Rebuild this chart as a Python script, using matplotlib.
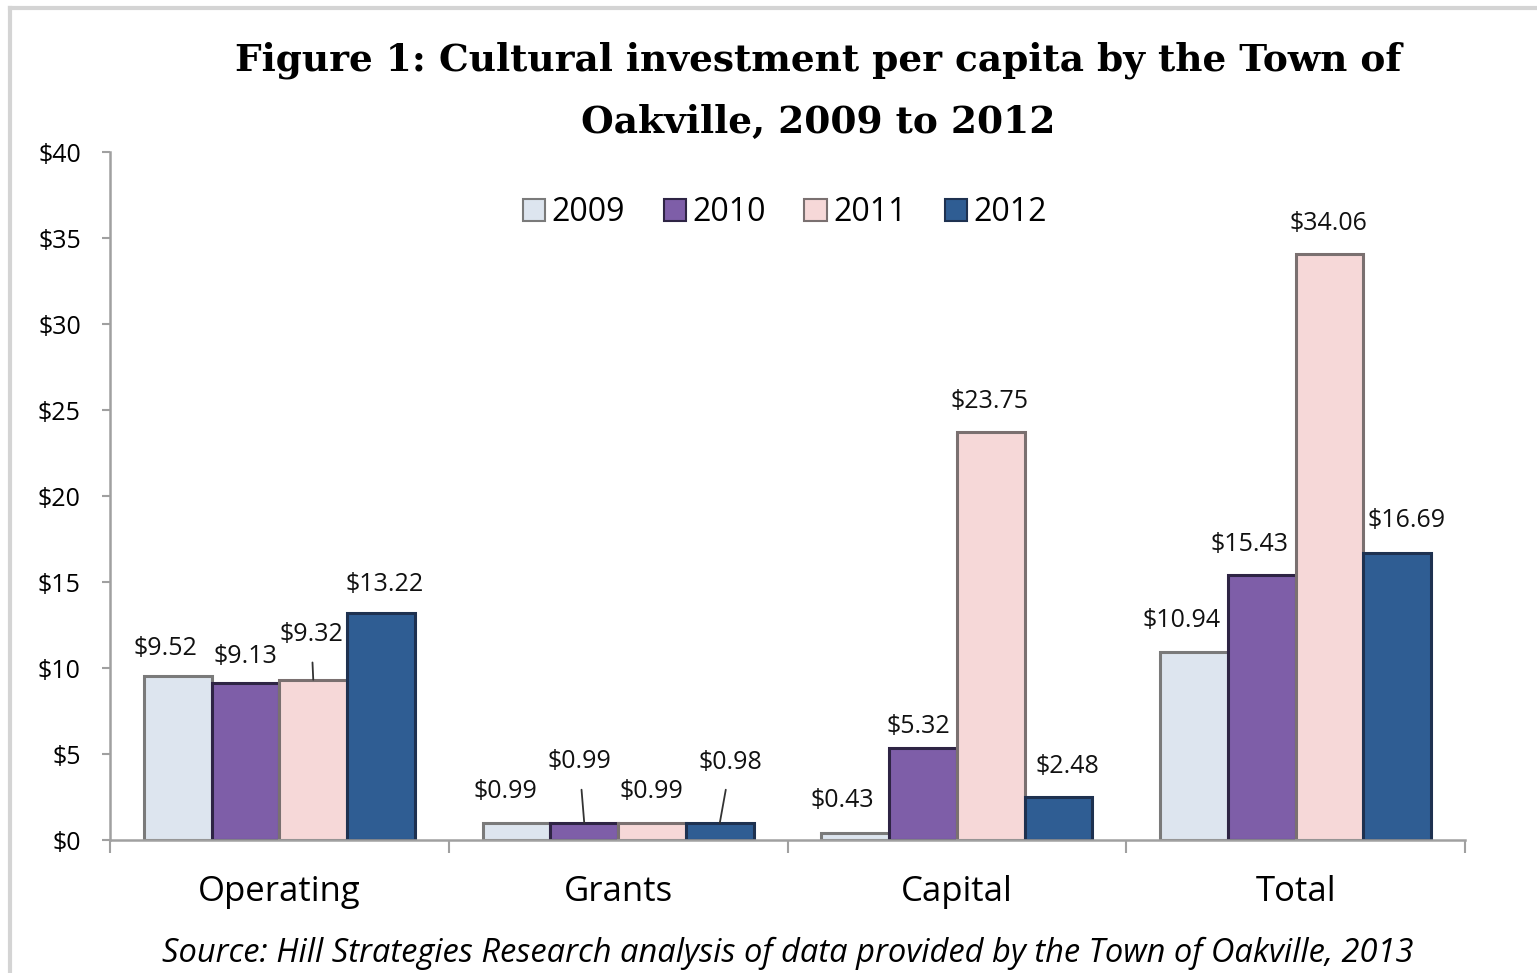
import numpy as np
import matplotlib.pyplot as plt
from matplotlib.lines import Line2D
from matplotlib.patches import Patch

# --- Data: per-capita cultural investment ($) ---
categories = ['Operating', 'Grants', 'Capital', 'Total']
years = ['2009', '2010', '2011', '2012']
v2009 = [9.52, 0.99, 0.43, 10.94]
v2010 = [9.13, 0.99, 5.32, 15.43]
v2011 = [9.32, 0.99, 23.75, 34.06]
v2012 = [13.22, 0.98, 2.48, 16.69]
series = [v2009, v2010, v2011, v2012]

fills = ['#dde5ef', '#7e5ea8', '#f6d8d8', '#2f5d93']
edges = ['#7a7a7a', '#2e2444', '#7a7070', '#1e3150']

# label placement (dx, dy in pixels from bar top, leader line?)
label_pos = [
    [(-12, 28, False), (-11, 31, False), (-13, 32, False), (-12, 31, False)],
    [(0, 26, False), (-5, 61, True), (-5, 22, False), (-12, 30, False)],
    [(-2, 45, True), (-1, 31, False), (-1, 30, False), (-1, 31, False)],
    [(4, 28, False), (11, 61, True), (9, 31, False), (9, 32, False)],
]

W, H = 1537, 973
fig = plt.figure(figsize=(W / 100, H / 100), dpi=100)
ax = fig.add_axes([110 / W, 1 - 840 / H, 1355 / W, 688 / H])

x = np.arange(len(categories))
bw = 0.2
for i, vals in enumerate(series):
    ax.bar(x + (i - 1.5) * bw, vals, width=bw, color=fills[i],
           edgecolor=edges[i], linewidth=2.2, zorder=2)

ax.set_xlim(-0.5, 3.5)
ax.set_ylim(0, 40)
ax.set_yticks(range(0, 41, 5))
ax.set_yticklabels([f'${t}' for t in range(0, 41, 5)], fontsize=18,
                   family='Open Sans')
ax.set_xticks(x)
ax.set_xticklabels(categories, fontsize=25, family='Open Sans')
ax.set_xticks(np.arange(-0.5, 4, 1), minor=True)
ax.tick_params(axis='x', which='major', length=0, pad=25)
ax.tick_params(axis='x', which='minor', length=9, color='#a0a0a0', width=1.5)
ax.tick_params(axis='y', length=6, color='#a0a0a0', width=1.5, pad=15)
for s in ['top', 'right']:
    ax.spines[s].set_visible(False)
for s in ['left', 'bottom']:
    ax.spines[s].set_color('#a0a0a0')
    ax.spines[s].set_linewidth(1.8)

# --- Value labels ---
px2pt = 72 / 100
for i, vals in enumerate(series):
    for j, v in enumerate(vals):
        xb = x[j] + (i - 1.5) * bw
        dx, dy, lead = label_pos[i][j]
        ax.annotate(f'${v:.2f}', xy=(xb, v), xytext=(dx * px2pt, dy * px2pt),
                    textcoords='offset points', ha='center', va='center',
                    fontsize=18, family='Open Sans', color='#111111',
                    arrowprops=dict(arrowstyle='-', color='#333333', lw=1.3,
                                    shrinkA=9, shrinkB=0) if lead else None,
                    zorder=3)

# --- Legend ---
handles = [Patch(facecolor=fills[i], edgecolor=edges[i], linewidth=1.5)
           for i in range(4)]
fig.legend(handles, years, loc='center', bbox_to_anchor=(785 / W, 1 - 213 / H),
           ncol=4, frameon=False, prop={'family': 'Open Sans', 'size': 23},
           handlelength=0.7, handleheight=0.7, handletextpad=0.2,
           columnspacing=1.2)

# --- Title and source ---
fig.text(818 / W, 1 - 60 / H,
         'Figure 1: Cultural investment per capita by the Town of',
         ha='center', va='center', fontsize=27, fontweight='bold',
         family='DejaVu Serif')
fig.text(818 / W, 1 - 122 / H, 'Oakville, 2009 to 2012',
         ha='center', va='center', fontsize=27, fontweight='bold',
         family='DejaVu Serif')
fig.text(788 / W, 1 - 953 / H,
         'Source: Hill Strategies Research analysis of data provided by the Town of Oakville, 2013',
         ha='center', va='center', fontsize=23.5, style='italic',
         family='Open Sans')

# Outer frame
fig.add_artist(Line2D([10 / W, 10 / W], [0, 1 - 8 / H], color='#d4d4d4',
                      lw=3, transform=fig.transFigure))
fig.add_artist(Line2D([10 / W, 1], [1 - 8 / H, 1 - 8 / H], color='#d4d4d4',
                      lw=3, transform=fig.transFigure))

fig.savefig('out.png', dpi=100, facecolor='white')
